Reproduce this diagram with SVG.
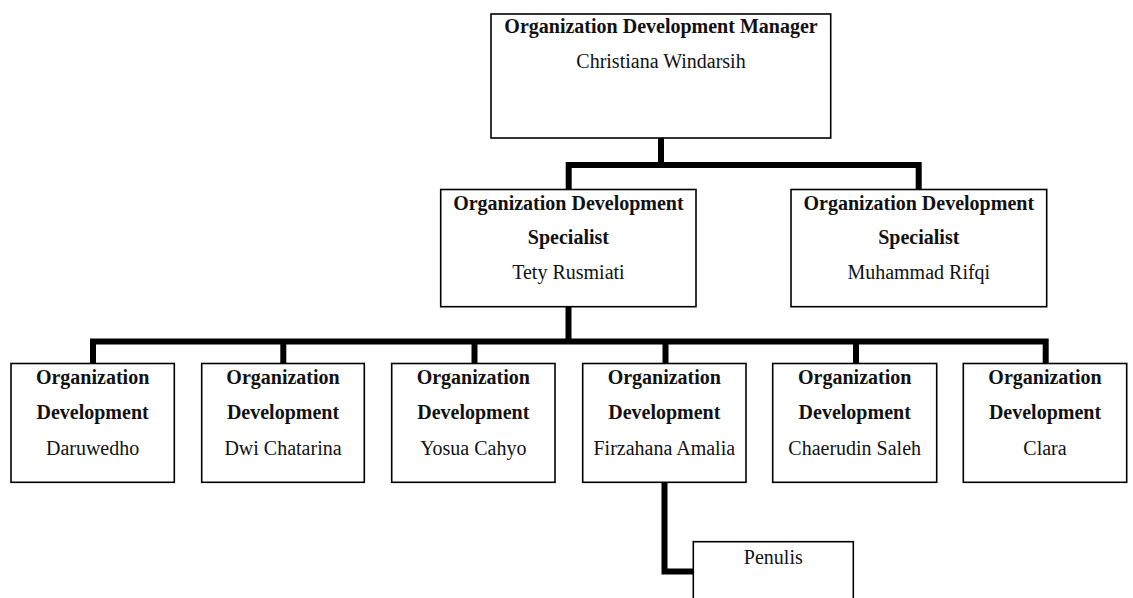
<svg xmlns="http://www.w3.org/2000/svg" width="1133" height="598" viewBox="0 0 1133 598">
<style>
.box{fill:#fff;stroke:#000;stroke-width:1.6}
.t{font-family:"Liberation Serif","Times New Roman",serif;font-size:20px;fill:#111;text-anchor:middle}
.b{font-weight:bold}
.c{fill:none;stroke:#000;stroke-width:6;stroke-linejoin:miter;stroke-linecap:butt}
</style>
<rect width="1133" height="598" fill="#fff"/>
<g id="connectors">
<path class="c" d="M661 138 V165"/>
<path class="c" d="M568.7 189.5 V165 H918.7 V189.5"/>
<path class="c" d="M568.5 306.7 V341.5"/>
<path class="c" d="M93 363.5 V341.5 H1045.7 V363.5"/>
<path class="c" d="M283.3 341.5 V363.5"/>
<path class="c" d="M474.5 341.5 V363.5"/>
<path class="c" d="M665.5 341.5 V363.5"/>
<path class="c" d="M856 341.5 V363.5"/>
<path class="c" d="M664.5 482.3 V571.5 H693.3"/>
</g>
<g id="manager">
<rect class="box" x="491" y="14" width="339.7" height="124"/>
<text class="t b" x="661" y="33">Organization Development Manager</text>
<text class="t" x="661" y="68">Christiana Windarsih</text>
</g>
<g id="specialist-tety">
<rect class="box" x="440.7" y="189.5" width="255.3" height="117.2"/>
<text class="t b" x="568.4" y="209.5">Organization Development</text>
<text class="t b" x="568.4" y="244">Specialist</text>
<text class="t" x="568.4" y="278.5">Tety Rusmiati</text>
</g>
<g id="specialist-rifqi">
<rect class="box" x="791" y="189.5" width="255.7" height="117.2"/>
<text class="t b" x="918.8" y="209.5">Organization Development</text>
<text class="t b" x="918.8" y="244">Specialist</text>
<text class="t" x="918.8" y="278.5">Muhammad Rifqi</text>
</g>
<g id="od-daruwedho">
<rect class="box" x="11" y="363.5" width="163.3" height="118.8"/>
<text class="t b" x="92.6" y="384.3">Organization</text>
<text class="t b" x="92.6" y="419.3">Development</text>
<text class="t" x="92.6" y="454.5">Daruwedho</text>
</g>
<g id="od-dwi">
<rect class="box" x="201.7" y="363.5" width="162.6" height="118.8"/>
<text class="t b" x="283" y="384.3">Organization</text>
<text class="t b" x="283" y="419.3">Development</text>
<text class="t" x="283" y="454.5">Dwi Chatarina</text>
</g>
<g id="od-yosua">
<rect class="box" x="391.7" y="363.5" width="163.3" height="118.8"/>
<text class="t b" x="473.3" y="384.3">Organization</text>
<text class="t b" x="473.3" y="419.3">Development</text>
<text class="t" x="473.3" y="454.5">Yosua Cahyo</text>
</g>
<g id="od-firzahana">
<rect class="box" x="582.7" y="363.5" width="163.3" height="118.8"/>
<text class="t b" x="664.3" y="384.3">Organization</text>
<text class="t b" x="664.3" y="419.3">Development</text>
<text class="t" x="664.3" y="454.5">Firzahana Amalia</text>
</g>
<g id="od-chaerudin">
<rect class="box" x="772.7" y="363.5" width="164" height="118.8"/>
<text class="t b" x="854.7" y="384.3">Organization</text>
<text class="t b" x="854.7" y="419.3">Development</text>
<text class="t" x="854.7" y="454.5">Chaerudin Saleh</text>
</g>
<g id="od-clara">
<rect class="box" x="963.3" y="363.5" width="163.4" height="118.8"/>
<text class="t b" x="1045" y="384.3">Organization</text>
<text class="t b" x="1045" y="419.3">Development</text>
<text class="t" x="1045" y="454.5">Clara</text>
</g>
<g id="penulis">
<rect class="box" x="693.3" y="541.7" width="160" height="70"/>
<text class="t" x="773.3" y="564">Penulis</text>
</g>
</svg>
